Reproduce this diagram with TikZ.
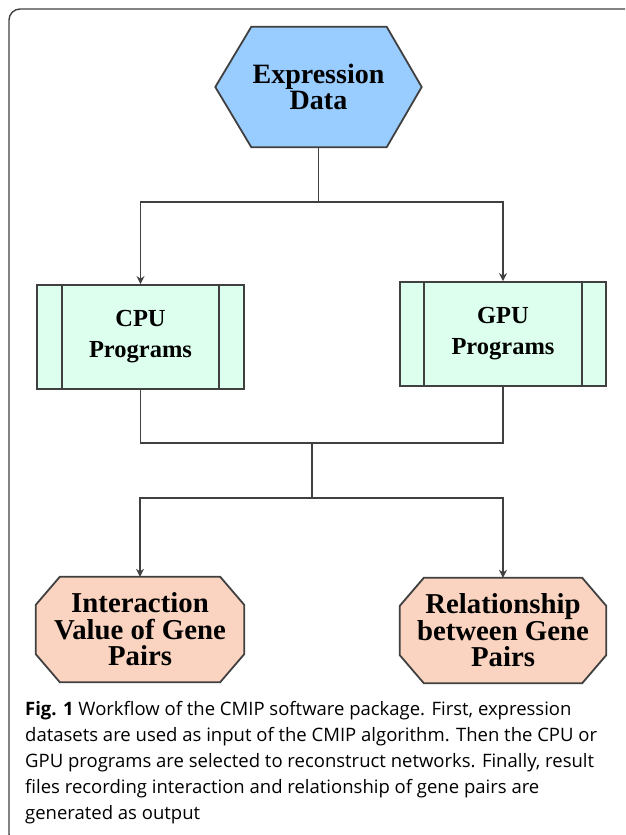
\documentclass[tikz,border=0pt]{standalone}
\usepackage{fontspec}
\setmainfont{Liberation Serif}
\newfontfamily\capfont{Open Sans}
\usetikzlibrary{arrows.meta,backgrounds}
\definecolor{hexblue}{RGB}{153,204,255}
\definecolor{mint}{RGB}{221,255,238}
\definecolor{peach}{RGB}{250,212,192}
\definecolor{linegray}{RGB}{64,64,64}
\tikzset{
  conn/.style={draw=linegray, line width=1.8pt},
  arr/.style={conn, -{Stealth[length=8pt,width=8pt]}},
  shapeline/.style={draw=linegray, line width=1.8pt},
  txt/.style={font=\fontsize{28}{26}\selectfont\bfseries, align=center, inner sep=0pt},
  otxt/.style={font=\fontsize{28.8}{26.5}\selectfont\bfseries, align=center, inner sep=0pt},
  ptxt/.style={font=\fontsize{24.5}{31}\selectfont\bfseries, align=center, inner sep=0pt},
  progbox/.style={shapeline, fill=mint, minimum height=104pt, inner sep=0pt},
}
\begin{document}
\begin{tikzpicture}[x=1pt,y=-1pt]
\useasboundingbox (0,0) rectangle (625,835);
\begin{scope}
\clip (0,0) rectangle (625,835);
\draw[draw=linegray, line width=1.4pt, rounded corners=11pt] (640,9) -- (9,9) -- (9,845) -- (60,845);
\end{scope}
% Expression data hexagon
\node[txt, minimum width=206pt, minimum height=120pt] (exp) at (318.5,87) {Expression\\Data};
\begin{scope}[on background layer]
\draw[shapeline, fill=hexblue] (exp.west) -- ([xshift=36pt]exp.north west) -- ([xshift=-35pt]exp.north east) -- (exp.east) -- ([xshift=-35pt]exp.south east) -- ([xshift=36pt]exp.south west) -- cycle;
\end{scope}
% program boxes
\node[progbox, minimum width=207pt] (cpu) at (140.5,337) {};
\node[ptxt] (cput) at (cpu) {CPU\\Programs};
\draw[shapeline] ([xshift=26pt]cpu.north west) -- ([xshift=26pt]cpu.south west);
\draw[shapeline] ([xshift=-26pt]cpu.north east) -- ([xshift=-26pt]cpu.south east);
\node[progbox, minimum width=206pt] (gpu) at (503,334) {};
\node[ptxt] (gput) at (gpu) {GPU\\Programs};
\draw[shapeline] ([xshift=25pt]gpu.north west) -- ([xshift=25pt]gpu.south west);
\draw[shapeline] ([xshift=-25pt]gpu.north east) -- ([xshift=-25pt]gpu.south east);
% output octagons
\node[otxt, minimum width=208pt, minimum height=105pt] (o1) at (140,629.5) {Interaction\\Value of Gene\\Pairs};
\node[otxt, minimum width=206pt, minimum height=105pt] (o2) at (503,630.5) {Relationship\\between Gene\\Pairs};
\begin{scope}[on background layer]
\foreach \n in {o1,o2}{
\draw[shapeline, fill=peach] ([yshift=-28pt]\n.north west) -- ([xshift=24pt]\n.north west) -- ([xshift=-24pt]\n.north east) -- ([yshift=-28pt]\n.north east) -- ([yshift=28pt]\n.south east) -- ([xshift=-24pt]\n.south east) -- ([xshift=24pt]\n.south west) -- ([yshift=28pt]\n.south west) -- cycle;
}
\end{scope}
% connectors
\coordinate (j1) at (318.5,202);
\coordinate (j2) at (312,443);
\coordinate (j3) at (312,498);
\draw[conn] (exp.south) -- (j1);
\draw[arr] (j1) -| (cpu.north);
\draw[arr] (j1) -| (gpu.north);
\draw[conn] (cpu.south) |- (j2) -| (gpu.south);
\draw[conn] (j2) -- (j3);
\draw[arr] (j3) -| (o1.north);
\draw[arr] (j3) -| (o2.north);
% caption
\node[anchor=north west, align=left, inner sep=0pt, font=\capfont\fontsize{18.5}{26}\selectfont] (cap) at (25,701) {%
{\bfseries Fig. 1} Workflow of the CMIP software package. First, expression\\
datasets are used as input of the CMIP algorithm. Then the CPU or\\
GPU programs are selected to reconstruct networks. Finally, result\\
files recording interaction and relationship of gene pairs are\\
generated as output};
\end{tikzpicture}
\end{document}
